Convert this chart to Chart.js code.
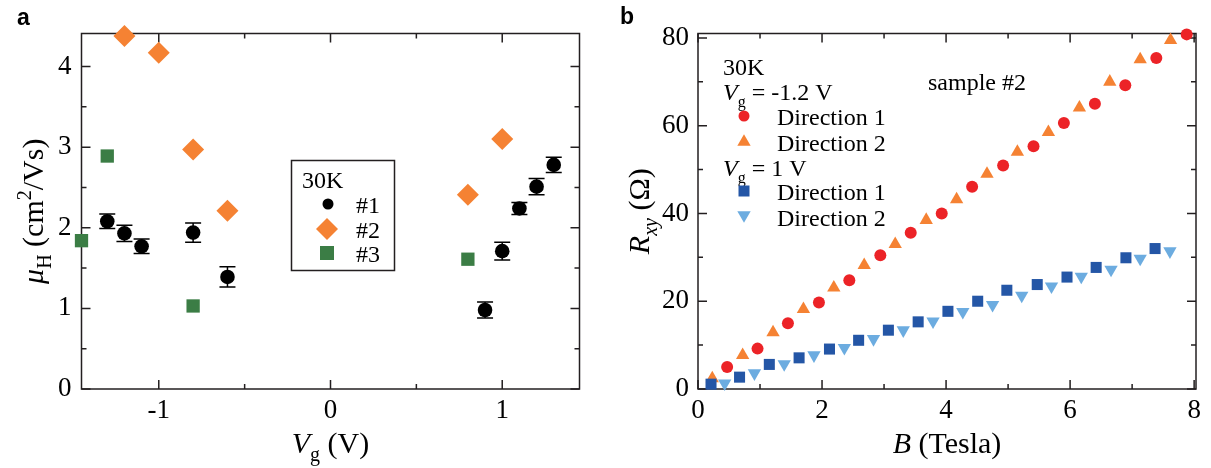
<!DOCTYPE html>
<html>
<head>
<meta charset="utf-8">
<script src="https://cdn.jsdelivr.net/npm/chart.js@4/dist/chart.umd.min.js"></script>
<style>
  body { margin: 0; background: #fff; width: 1211px; height: 468px; overflow: hidden; position: relative; }
  canvas { position: absolute; top: 0; }
  #chartA { left: 0; }
  #chartB { left: 600px; }
</style>
</head>
<body>
<canvas id="chartA" width="600" height="468"></canvas>
<canvas id="chartB" width="611" height="468"></canvas>
<script>
// panel a : Hall mobility vs gate voltage (30K)
const vgS1 = [-1.3, -1.2, -1.1, -0.8, -0.6, 0.9, 1.0, 1.1, 1.2, 1.3];
const muS1 = [2.08, 1.93, 1.77, 1.94, 1.39, 0.98, 1.71, 2.24, 2.51, 2.78];
const errS1 = [0.09, 0.1, 0.09, 0.12, 0.125, 0.1, 0.11, 0.075, 0.1, 0.095];
const vgS2 = [-1.2, -1.0, -0.8, -0.6, 0.8, 1.0];
const muS2 = [4.38, 4.17, 2.97, 2.21, 2.41, 3.10];
const vgS3 = [-1.45, -1.3, -0.8, 0.8];
const muS3 = [1.84, 2.89, 1.03, 1.61];
const aXTicks = [-1, 0, 1];
const aXMinor = [-0.5, 0.5];
const aYTicks = [0, 1, 2, 3, 4];
const aYMinor = [0.5, 1.5, 2.5, 3.5];

// panel b : Rxy vs B, sample #2
const bNegDir1 = [0.47, 0.96, 1.45, 1.95, 2.44, 2.94, 3.43, 3.93, 4.42, 4.92, 5.41, 5.90, 6.40, 6.89, 7.39, 7.88];
const rNegDir1 = [5.0, 9.2, 15.0, 19.7, 24.8, 30.5, 35.6, 40.0, 46.1, 50.9, 55.3, 60.6, 65.0, 69.2, 75.4, 80.8];
const bNegDir2 = [0.23, 0.72, 1.21, 1.70, 2.19, 2.68, 3.18, 3.68, 4.17, 4.66, 5.15, 5.65, 6.15, 6.64, 7.13, 7.62];
const rNegDir2 = [2.4, 7.7, 12.9, 18.2, 23.1, 28.2, 33.0, 38.5, 43.2, 49.0, 54.0, 58.5, 64.1, 70.0, 75.1, 79.5];
const bPosDir1 = [0.21, 0.67, 1.15, 1.63, 2.12, 2.59, 3.07, 3.55, 4.03, 4.51, 4.98, 5.47, 5.95, 6.42, 6.90, 7.37];
const rPosDir1 = [1.1, 2.7, 5.6, 7.1, 9.1, 11.1, 13.4, 15.3, 17.7, 20.0, 22.5, 23.8, 25.5, 27.7, 29.9, 32.0];
const bPosDir2 = [0.43, 0.91, 1.39, 1.87, 2.36, 2.83, 3.31, 3.79, 4.27, 4.75, 5.22, 5.70, 6.18, 6.66, 7.13, 7.61];
const rPosDir2 = [1.3, 3.6, 5.7, 7.7, 9.4, 11.4, 13.4, 15.4, 17.6, 19.2, 21.3, 23.4, 25.6, 27.2, 29.7, 31.4];
const bXTicks = [0, 2, 4, 6, 8];
const bXMinor = [1, 3, 5, 7];
const bYTicks = [0, 20, 40, 60, 80];
const bYMinor = [10, 30, 50, 70];

const SERIF = '"Liberation Serif", "Times New Roman", serif';
const BLACK = '#000000';
const ORANGE = '#f58233';
const GREEN = '#3b7d45';
const RED = '#ec2327';
const BLUE = '#2456a6';
const LIGHTBLUE = '#6cace0';
const FRAME = '#231f20';

function toPoints(xs, ys) {
  return xs.map((x, i) => ({ x: x, y: ys[i] }));
}

function fontOf(part, size) {
  const s = part[2] ? Math.round(size * 0.66) : size;
  return (part[1] === 'i' ? 'italic ' : '') + s + 'px ' + SERIF;
}

// parts: [text, 'i' | 'n', 'sub' | 'sup' | undefined]
function drawRich(ctx, parts, x, y, size, align, rot) {
  ctx.save();
  ctx.translate(x, y);
  if (rot) ctx.rotate(rot);
  ctx.fillStyle = '#000';
  ctx.textBaseline = 'alphabetic';
  ctx.textAlign = 'left';
  const widths = parts.map(p => { ctx.font = fontOf(p, size); return ctx.measureText(p[0]).width; });
  const total = widths.reduce((s, w) => s + w, 0);
  let cx = align === 'center' ? -total / 2 : (align === 'right' ? -total : 0);
  parts.forEach((p, i) => {
    ctx.font = fontOf(p, size);
    const dy = p[2] === 'sub' ? size * 0.28 : (p[2] === 'sup' ? -size * 0.4 : 0);
    ctx.fillText(p[0], cx, dy);
    cx += widths[i];
  });
  ctx.restore();
}

function marker(ctx, style, x, y, r, color) {
  ctx.save();
  ctx.fillStyle = color;
  ctx.beginPath();
  if (style === 'circle') {
    ctx.arc(x, y, r, 0, Math.PI * 2);
  } else if (style === 'rect') {
    ctx.rect(x - r, y - r, 2 * r, 2 * r);
  } else if (style === 'diamond') {
    ctx.moveTo(x, y - r); ctx.lineTo(x + r, y); ctx.lineTo(x, y + r); ctx.lineTo(x - r, y);
  } else if (style === 'up') {
    ctx.moveTo(x, y - r); ctx.lineTo(x + r * 0.866, y + r / 2); ctx.lineTo(x - r * 0.866, y + r / 2);
  } else if (style === 'down') {
    ctx.moveTo(x, y + r); ctx.lineTo(x + r * 0.866, y - r / 2); ctx.lineTo(x - r * 0.866, y - r / 2);
  }
  ctx.closePath();
  ctx.fill();
  ctx.restore();
}

// box with inward ticks on all four sides
function framePlugin(xMajor, xMinor, yMajor, yMinor) {
  return {
    id: 'frame',
    beforeDatasetsDraw(chart) {
      const ctx = chart.ctx;
      const a = chart.chartArea;
      const sx = chart.scales.x, sy = chart.scales.y;
      ctx.save();
      ctx.strokeStyle = FRAME;
      ctx.lineWidth = 1.5;
      ctx.strokeRect(a.left, a.top, a.right - a.left, a.bottom - a.top);
      ctx.beginPath();
      const tick = (vals, len) => {
        vals.forEach(v => {
          const px = sx.getPixelForValue(v);
          ctx.moveTo(px, a.bottom); ctx.lineTo(px, a.bottom - len);
          ctx.moveTo(px, a.top); ctx.lineTo(px, a.top + len);
        });
      };
      const tickY = (vals, len) => {
        vals.forEach(v => {
          const py = sy.getPixelForValue(v);
          ctx.moveTo(a.left, py); ctx.lineTo(a.left + len, py);
          ctx.moveTo(a.right, py); ctx.lineTo(a.right - len, py);
        });
      };
      tick(xMajor, 9); tick(xMinor, 5);
      tickY(yMajor, 9); tickY(yMinor, 5);
      ctx.stroke();
      ctx.restore();
    }
  };
}

const errorBars = {
  id: 'errorBars',
  beforeDatasetsDraw(chart) {
    const ctx = chart.ctx;
    const sx = chart.scales.x, sy = chart.scales.y;
    ctx.save();
    ctx.strokeStyle = BLACK;
    ctx.lineWidth = 1.5;
    ctx.beginPath();
    vgS1.forEach((v, i) => {
      const px = sx.getPixelForValue(v);
      const top = sy.getPixelForValue(muS1[i] + errS1[i]);
      const bot = sy.getPixelForValue(muS1[i] - errS1[i]);
      ctx.moveTo(px, top); ctx.lineTo(px, bot);
      ctx.moveTo(px - 8, top); ctx.lineTo(px + 8, top);
      ctx.moveTo(px - 8, bot); ctx.lineTo(px + 8, bot);
    });
    ctx.stroke();
    ctx.restore();
  }
};

const textA = {
  id: 'textA',
  afterDraw(chart) {
    const ctx = chart.ctx;
    const a = chart.chartArea;
    ctx.save();
    ctx.fillStyle = '#000';
    ctx.font = 'bold 23px "Liberation Sans", Arial, sans-serif';
    ctx.fillText('a', 17, 25);
    // legend box
    ctx.strokeStyle = FRAME;
    ctx.lineWidth = 1.5;
    ctx.strokeRect(291.5, 160.5, 103, 110);
    ctx.font = '24px ' + SERIF;
    ctx.fillText('30K', 302, 188);
    ctx.fillText('#1', 356, 213);
    ctx.fillText('#2', 356, 238);
    ctx.fillText('#3', 356, 262);
    ctx.restore();
    marker(ctx, 'circle', 328, 204, 5.5, BLACK);
    marker(ctx, 'diamond', 327, 229, 11, ORANGE);
    marker(ctx, 'rect', 327, 253, 7, GREEN);
    // axis titles
    drawRich(ctx, [['V', 'i'], ['g', 'n', 'sub'], [' (V)', 'n']], (a.left + a.right) / 2, 453, 30, 'center');
    drawRich(ctx, [['μ', 'i'], ['H', 'n', 'sub'], [' (cm', 'n'], ['2', 'n', 'sup'], ['/Vs)', 'n']],
      43, (a.top + a.bottom) / 2, 30, 'center', -Math.PI / 2);
  }
};

const textB = {
  id: 'textB',
  afterDraw(chart) {
    const ctx = chart.ctx;
    const a = chart.chartArea;
    ctx.save();
    ctx.fillStyle = '#000';
    ctx.font = 'bold 23px "Liberation Sans", Arial, sans-serif';
    ctx.fillText('b', 20, 24);
    ctx.font = '24px ' + SERIF;
    ctx.fillText('30K', 123, 75);
    ctx.fillText('Direction 1', 177, 125);
    ctx.fillText('Direction 2', 177, 151);
    ctx.fillText('Direction 1', 177, 200);
    ctx.fillText('Direction 2', 177, 226);
    ctx.fillText('sample #2', 328, 90);
    ctx.restore();
    drawRich(ctx, [['V', 'i'], ['g', 'n', 'sub'], [' = -1.2 V', 'n']], 123, 100, 24, 'left');
    drawRich(ctx, [['V', 'i'], ['g', 'n', 'sub'], [' = 1 V', 'n']], 123, 176, 24, 'left');
    marker(ctx, 'circle', 144, 116, 5.5, RED);
    marker(ctx, 'up', 144, 142, 7.7, ORANGE);
    marker(ctx, 'rect', 144, 191, 5.5, BLUE);
    marker(ctx, 'down', 144, 215, 7.7, LIGHTBLUE);
    drawRich(ctx, [['B', 'i'], [' (Tesla)', 'n']], (a.left + a.right) / 2, 453, 30, 'center');
    drawRich(ctx, [['R', 'i'], ['xy', 'i', 'sub'], [' (Ω)', 'n']], 49, (a.top + a.bottom) / 2, 30, 'center', -Math.PI / 2);
  }
};

function axisOpts(min, max, ticks, width, height, pad) {
  return {
    type: 'linear',
    min: min,
    max: max,
    grid: { display: false, drawTicks: false },
    border: { display: false },
    afterBuildTicks: s => { s.ticks = ticks.map(v => ({ value: v })); },
    afterFit: s => {
      if (width) s.width = width;
      if (height) s.height = height;
    },
    ticks: {
      color: '#000',
      padding: pad,
      font: { family: SERIF, size: 27 },
      callback: v => String(v)
    }
  };
}

function baseOptions(xs, ys, right) {
  return {
    responsive: false,
    animation: false,
    layout: { padding: { top: 33.5, right: right, left: 0, bottom: 0 } },
    plugins: { legend: { display: false }, tooltip: { enabled: false } },
    scales: { x: xs, y: ys }
  };
}

Chart.defaults.font.family = SERIF;

new Chart('chartA', {
  type: 'scatter',
  data: {
    datasets: [
      { data: toPoints(vgS1, muS1), pointStyle: 'circle', pointRadius: 7.3, backgroundColor: BLACK, borderWidth: 0, clip: false },
      { data: toPoints(vgS2, muS2), pointStyle: 'rectRot', pointRadius: 11, backgroundColor: ORANGE, borderWidth: 0, clip: false },
      { data: toPoints(vgS3, muS3), pointStyle: 'rect', pointRadius: 9.4, backgroundColor: GREEN, borderWidth: 0, clip: false }
    ]
  },
  options: baseOptions(
    axisOpts(-1.45, 1.45, aXTicks, 0, 79, 6),
    axisOpts(0, 4.41, aYTicks, 81.5, 0, 10),
    20.5),
  plugins: [framePlugin(aXTicks, aXMinor, aYTicks, aYMinor), errorBars, textA]
});

new Chart('chartB', {
  type: 'scatter',
  data: {
    datasets: [
      { data: toPoints(bPosDir1, rPosDir1), pointStyle: 'rect', pointRadius: 7.8, backgroundColor: BLUE, borderWidth: 0, clip: false },
      { data: toPoints(bPosDir2, rPosDir2), pointStyle: 'triangle', pointRotation: 180, pointRadius: 7.7, backgroundColor: LIGHTBLUE, borderWidth: 0, clip: false },
      { data: toPoints(bNegDir1, rNegDir1), pointStyle: 'circle', pointRadius: 6, backgroundColor: RED, borderWidth: 0, clip: false },
      { data: toPoints(bNegDir2, rNegDir2), pointStyle: 'triangle', pointRadius: 7.7, backgroundColor: ORANGE, borderWidth: 0, clip: false }
    ]
  },
  options: baseOptions(
    axisOpts(0, 8.03, bXTicks, 0, 79, 6),
    axisOpts(0, 81, bYTicks, 98, 0, 9),
    15),
  plugins: [framePlugin(bXTicks, bXMinor, bYTicks, bYMinor), textB]
});
</script>
</body>
</html>
